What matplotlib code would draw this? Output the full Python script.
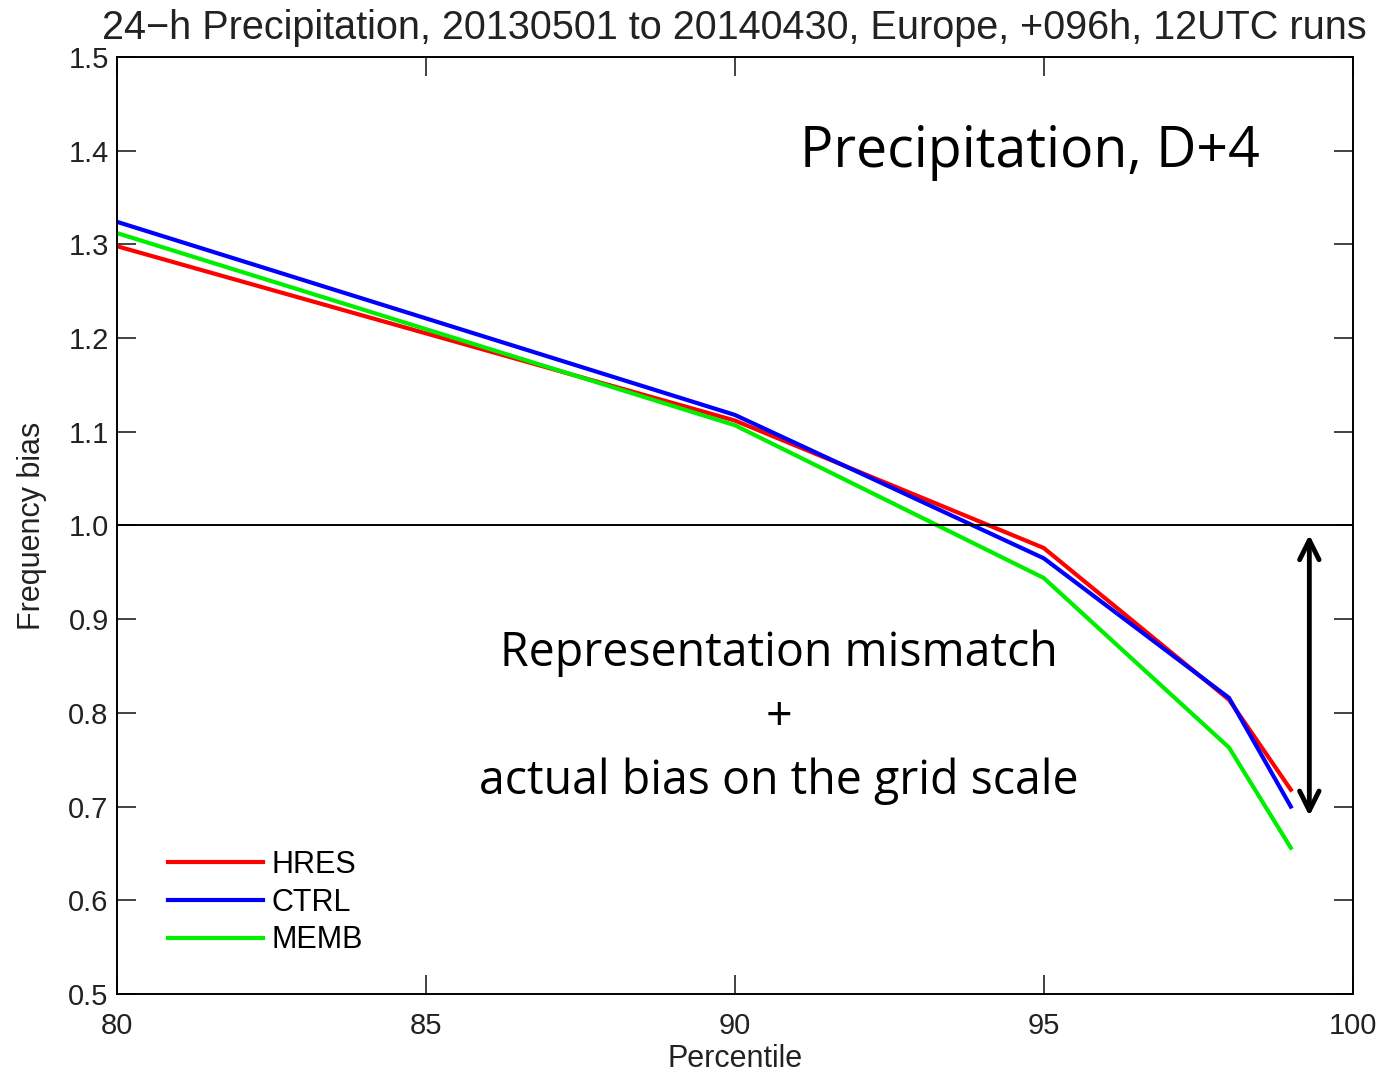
import matplotlib
matplotlib.use('Agg')
import matplotlib.pyplot as plt
from matplotlib.ticker import MultipleLocator, FormatStrFormatter

# percentiles and frequency bias
percentile = [80, 90, 95, 98, 99]
hres = [1.298, 1.112, 0.976, 0.814, 0.718]
ctrl = [1.324, 1.118, 0.965, 0.816, 0.700]
memb = [1.312, 1.107, 0.944, 0.763, 0.656]

plt.rcParams['font.family'] = ['Liberation Sans', 'DejaVu Sans']

fig = plt.figure(figsize=(13.83, 10.74), dpi=100)
ax = fig.add_axes([0.0846, 0.0745, 0.8934, 0.8725])

ax.plot(percentile, hres, color='#ff0000', lw=3, label='HRES')
ax.plot(percentile, ctrl, color='#0000ff', lw=3, label='CTRL')
ax.plot(percentile, memb, color='#00ee00', lw=3, label='MEMB')
ax.axhline(1.0, color='black', lw=1.4)

ax.set_xlim(80, 100)
ax.set_ylim(0.5, 1.5)
ax.xaxis.set_major_locator(MultipleLocator(5))
ax.yaxis.set_major_locator(MultipleLocator(0.1))
ax.yaxis.set_major_formatter(FormatStrFormatter('%.1f'))
ax.tick_params(direction='in', top=True, right=True, length=14, width=1.2,
               labelsize=21, colors='#222222', pad=6)
ax.tick_params(axis='x', pad=13)
for s in ax.spines.values():
    s.set_linewidth(1.4)

ax.set_xlabel('Percentile', fontsize=22, color='#222222', labelpad=3)
ax.set_ylabel('Frequency bias', fontsize=22, color='#222222', labelpad=15)
ax.set_title('24\u2212h Precipitation, 20130501 to 20140430, Europe, +096h, 12UTC runs',
             fontsize=28.5, color='#222222', pad=13)

leg = ax.legend(loc='lower left', bbox_to_anchor=(0.019, 0.012), frameon=False,
                fontsize=22, handlelength=3.1, handletextpad=0.3, labelspacing=0.25)

ax.text(94.77, 1.398, 'Precipitation, D+4', fontsize=40, ha='center', va='center',
        family=['Open Sans', 'DejaVu Sans'])
txt = 'Representation mismatch\n+\nactual bias on the grid scale'
ax.text(90.71, 0.795, txt, fontsize=33.5, ha='center', va='center', linespacing=1.45,
        family=['Open Sans', 'DejaVu Sans'])

ax.annotate('', xy=(99.3, 0.69), xytext=(99.3, 0.99),
            arrowprops=dict(arrowstyle='<->', color='black', lw=3.5,
                            mutation_scale=35, shrinkA=0, shrinkB=0))

fig.savefig('out.png', dpi=100)
